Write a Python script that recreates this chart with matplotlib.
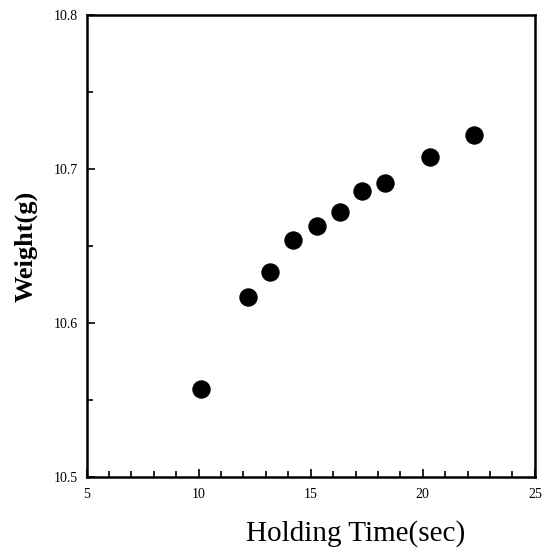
import matplotlib.pyplot as plt
from matplotlib.ticker import MultipleLocator, FormatStrFormatter

plt.rcParams["font.family"] = ["Liberation Serif", "DejaVu Serif"]

holding_time = [10.1, 12.2, 13.2, 14.2, 15.3, 16.3, 17.3, 18.3, 20.3, 22.3]
weight = [10.557, 10.617, 10.633, 10.654, 10.663, 10.672, 10.686, 10.691, 10.708, 10.722]

fig = plt.figure(figsize=(5.48, 5.53), dpi=100)
ax = fig.add_axes([0.158, 0.137, 0.818, 0.836])

ax.scatter(holding_time, weight, s=150, color="black", zorder=3)

ax.set_xlim(5, 25)
ax.set_ylim(10.5, 10.8)
ax.xaxis.set_major_locator(MultipleLocator(5))
ax.xaxis.set_minor_locator(MultipleLocator(1))
ax.yaxis.set_major_locator(MultipleLocator(0.1))
ax.yaxis.set_minor_locator(MultipleLocator(0.05))
ax.yaxis.set_major_formatter(FormatStrFormatter("%.1f"))
ax.tick_params(which="both", direction="in", top=False, right=False, width=1.2)
ax.tick_params(which="major", length=6, labelsize=10)
ax.tick_params(axis="x", which="major", pad=8)
ax.tick_params(axis="y", which="major", pad=6)
ax.tick_params(which="minor", length=4)
for sp in ax.spines.values():
    sp.set_linewidth(1.8)

ax.set_xlabel("Holding Time(sec)", fontsize=21)
ax.xaxis.set_label_coords(0.6, -0.092)
ax.set_ylabel("Weight(g)", fontsize=19, fontweight="bold", labelpad=12)

fig.savefig("out.png", dpi=100)
